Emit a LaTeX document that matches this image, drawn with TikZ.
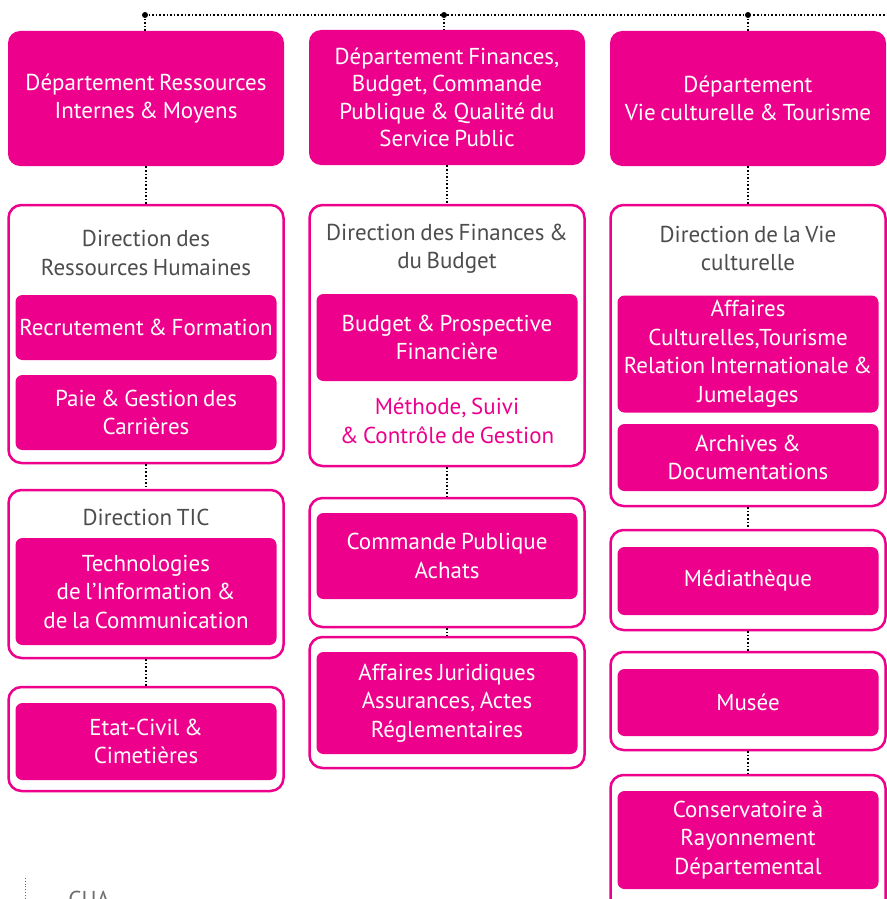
\documentclass[tikz,border=0pt]{standalone}
\usepackage{fontspec}
\setmainfont{PT Sans}[WordSpace=0.75]
\usepackage{tikz}
\usetikzlibrary{positioning}
\definecolor{pink}{RGB}{236,0,140}
\definecolor{greytext}{RGB}{77,77,77}
\definecolor{lightgrey}{RGB}{110,110,110}

\begin{document}
\begin{tikzpicture}[x=1pt, y=-1pt, thick,
    dept/.style={fill=pink, rounded corners=12pt, text=white, inner sep=0pt,
        minimum width=276pt, minimum height=135pt, align=center, font=\fontsize{23}{27.5}\selectfont},
    outer/.style={draw=pink, line width=2.5pt, fill=white, rounded corners=13pt,
        inner sep=0pt, minimum width=275pt},
    inner/.style={fill=pink, rounded corners=7pt, text=white, inner sep=0pt,
        minimum width=261pt, align=center, font=\fontsize{23}{28.5}\selectfont},
    title/.style={text=greytext, align=center, font=\fontsize{23}{28.5}\selectfont},
    link/.style={dotted, line width=1.6pt}]

    \useasboundingbox (0, 0) rectangle (886, 899);

    % top line
    \coordinate (t1) at (145, 15);
    \coordinate (t2) at (444, 15);
    \coordinate (t3) at (748, 15);
    \coordinate (tend) at (886, 15);

    % departments
    \node[dept] (dep1) at (146, 98.5) {Département Ressources\\Internes \& Moyens};
    \node[dept] (dep2) at (447, 97.5) {Département Finances,\\Budget, Commande\\Publique \& Qualité du\\Service Public};
    \node[dept] (dep3) at (748, 98.5) {Département\\Vie culturelle \& Tourisme};

    \draw[link] (t1) -- (tend);
    \foreach \t in {t1, t2, t3} {
            \fill (\t) circle (3pt);
        }
    \draw[link] (t1) -- (t1 |- dep1.north);
    \draw[link] (t2) -- (t2 |- dep2.north);
    \draw[link] (t3) -- (t3 |- dep3.north);

    % column 1
    \node[outer, minimum height=258pt] (drh) at (146, 334) {};
    \node[title] (drhtitle) at (146, 253) {Direction des\\Ressources Humaines};
    \node[inner, minimum height=65pt] (recru) at (146, 327.5) {Recrutement \& Formation};
    \node[inner, minimum height=75pt] (paie) at (146, 412.5) {Paie \& Gestion des\\Carrières};

    \node[outer, minimum height=168pt] (tic) at (146, 574) {};
    \node[title] (tictitle) at (146, 517) {Direction TIC};
    \node[inner, minimum height=107pt] (techno) at (146, 591.5) {Technologies\\de l’Information \&\\de la Communication};

    \node[outer, minimum height=104pt] (etat) at (146, 739) {};
    \node[inner, minimum height=77pt] (etatin) at (146, 741.5) {Etat-Civil \&\\Cimetières};

    \draw[link] (dep1.south) -- (drh.north);
    \draw[link] (drh.south) -- (tic.north);
    \draw[link] (tic.south) -- (etat.north);

    % column 2
    \node[outer, minimum height=261pt] (dfb) at (447, 335.5) {};
    \node[title] (dfbtitle) at (447, 248.5) {Direction des Finances \&\\du Budget};
    \node[inner, minimum height=87pt] (budget) at (447, 337.5) {Budget \& Prospective\\Financière};
    \node[title, text=pink] (methode) at (447, 421) {Méthode, Suivi\\\& Contrôle de Gestion};

    \node[outer, minimum height=129pt] (cpa) at (447, 562.5) {};
    \node[inner, minimum height=86pt] (cpain) at (447, 556) {Commande Publique\\Achats};

    \node[outer, minimum height=131pt] (aj) at (447, 702.5) {};
    \node[inner, minimum height=102pt] (ajin) at (447, 703) {Affaires Juridiques\\Assurances, Actes\\Réglementaires};

    \draw[link] (dep2.south) -- (dfb.north);
    \draw[link] (dfb.south) -- (cpa.north);
    \draw[link] (cpa.south) -- (aj.north);

    % column 3
    \node[outer, minimum height=301pt] (dvc) at (748, 355.5) {};
    \node[title] (dvctitle) at (748, 248.5) {Direction de la Vie\\culturelle};
    \node[inner, minimum height=117pt] (aff) at (748, 354) {Affaires\\Culturelles,Tourisme\\Relation Internationale \&\\Jumelages};
    \node[inner, minimum height=67pt] (arch) at (748, 457.5) {Archives \&\\Documentations};

    \node[outer, minimum height=100pt] (med) at (748, 580) {};
    \node[inner, minimum height=68pt] (medin) at (748, 581) {Médiathèque};

    \node[outer, minimum height=98pt] (musee) at (748, 701) {};
    \node[inner, minimum height=67pt] (museein) at (748, 702.5) {Musée};

    \node[outer, minimum height=140pt] (cons) at (748, 845) {};
    \node[inner, minimum height=98pt] (consin) at (748, 840) {Conservatoire à\\Rayonnement\\Départemental};

    \draw[link] (dep3.south) -- (dvc.north);
    \draw[link] (dvc.south) -- (med.north);
    \draw[link] (med.south) -- (musee.north);
    \draw[link] (musee.south) -- (cons.north);

    % cut-off footer
    \coordinate (foot) at (25, 878);
    \draw[lightgrey, dotted, line width=0.8pt] (foot) -- ++(0, 30);
    \node[anchor=base west, text=lightgrey, font=\fontsize{23}{28}\selectfont, inner sep=0pt] (cua) at (68, 907) {CUA};

\end{tikzpicture}
\end{document}
